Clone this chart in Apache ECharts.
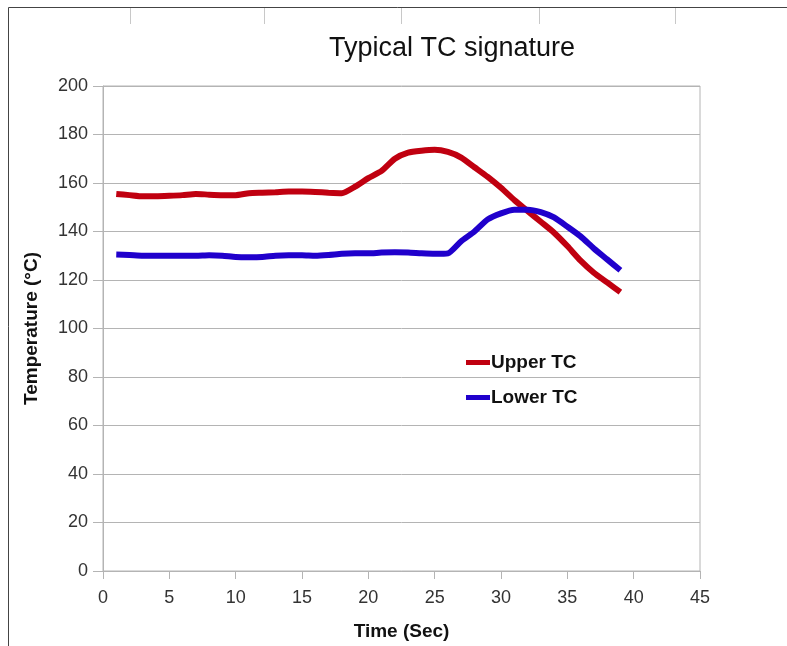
<!DOCTYPE html>
<html>
<head>
<meta charset="utf-8">
<script src="https://cdn.jsdelivr.net/npm/echarts@6/dist/echarts.min.js"></script>
<style>
html,body{margin:0;padding:0;background:#fff;}
#c{width:787px;height:646px;}
</style>
</head>
<body>
<div id="c"></div>
<script>
const timeSec = [1,2,3,4,5,6,7,8,9,10,11,12,13,14,15,16,17,18,19,20,21,22,23,24,25,26,27,28,29,30,31,32,33,34,35,36,37,38,39];
const upperTC = [155.5,155,154.5,154.5,154.7,155,155.5,155.2,155,155,155.8,156,156.2,156.5,156.5,156.3,156,155.8,158.5,162,165,170,172.5,173.3,173.7,172.8,170.5,166.5,162.5,158,153,148.5,144,139.5,134,128,123,119,115];
const lowerTC = [130.5,130.3,130,130,130,130,130,130.2,130,129.5,129.4,129.5,130,130.2,130.2,130,130.3,130.8,131,131,131.3,131.4,131.3,131,130.8,131,136,140,145,147.5,149,149,148,145.8,142,138,133,128.5,124];
const seriesNames = ['Upper TC', 'Lower TC'];
const xTicks = [0,5,10,15,20,25,30,35,40,45];
const yTicks = [0,20,40,60,80,100,120,140,160,180,200];

const narrow = '"Liberation Sans Narrow","Liberation Sans",Arial,sans-serif';
const sans = '"Liberation Sans",Arial,sans-serif';
const gridGray = '#b4b4b4';

const chart = echarts.init(document.getElementById('c'), null, {renderer:'canvas'});
chart.setOption({
  animation:false,
  backgroundColor:'#fff',
  title:{
    text:'Typical TC signature',
    left:447, top:30, textAlign:'center',
    textStyle:{fontFamily:narrow, fontSize:27, fontWeight:'normal', color:'#111'}
  },
  legend:{
    orient:'vertical', left:461, top:347,
    icon:'rect', itemWidth:24, itemHeight:5, itemGap:14,
    textStyle:{fontFamily:sans, fontSize:19, fontWeight:'bold', color:'#111', lineHeight:21, padding:[0,0,0,-4]},
    data:seriesNames
  },
  grid:{left:103, right:87, top:86, bottom:73, show:true, borderColor:gridGray, borderWidth:1},
  xAxis:{
    type:'value', min:xTicks[0], max:xTicks[xTicks.length-1], interval:5,
    name:'Time (Sec)', nameLocation:'middle', nameGap:51,
    nameTextStyle:{fontFamily:sans, fontSize:19, fontWeight:'bold', color:'#111'},
    axisLine:{show:true, lineStyle:{color:gridGray}},
    axisTick:{show:true, length:8, lineStyle:{color:gridGray}},
    axisLabel:{fontFamily:narrow, fontSize:18, color:'#333', margin:18},
    splitLine:{show:false}
  },
  yAxis:{
    type:'value', min:yTicks[0], max:yTicks[yTicks.length-1], interval:20,
    name:'Temperature (°C)', nameLocation:'middle', nameGap:62,
    nameTextStyle:{fontFamily:sans, fontSize:19, fontWeight:'bold', color:'#111'},
    axisLine:{show:true, lineStyle:{color:gridGray}},
    axisTick:{show:true, length:10, lineStyle:{color:gridGray}},
    axisLabel:{fontFamily:narrow, fontSize:18, color:'#333', margin:15},
    splitLine:{show:true, lineStyle:{color:gridGray, width:1}}
  },
  series:[
    {name:seriesNames[0], type:'line', data:timeSec.map((t,i)=>[t,upperTC[i]]), showSymbol:false, smooth:0.2,
     lineStyle:{width:6, color:'#c00010'}, itemStyle:{color:'#c00010'}},
    {name:seriesNames[1], type:'line', data:timeSec.map((t,i)=>[t,lowerTC[i]]), showSymbol:false, smooth:0.2,
     lineStyle:{width:6, color:'#2000cc'}, itemStyle:{color:'#2000cc'}}
  ],
  graphic:[
    {type:'line', shape:{x1:8.5,y1:7.5,x2:8.5,y2:646}, style:{stroke:'#444', lineWidth:1}},
    {type:'line', shape:{x1:8.5,y1:7.5,x2:787,y2:7.5}, style:{stroke:'#444', lineWidth:1}},
    {type:'line', shape:{x1:130.5,y1:8,x2:130.5,y2:24}, style:{stroke:'#c8c8c8', lineWidth:1}},
    {type:'line', shape:{x1:264.5,y1:8,x2:264.5,y2:24}, style:{stroke:'#c8c8c8', lineWidth:1}},
    {type:'line', shape:{x1:401.5,y1:8,x2:401.5,y2:24}, style:{stroke:'#c8c8c8', lineWidth:1}},
    {type:'line', shape:{x1:539.5,y1:8,x2:539.5,y2:24}, style:{stroke:'#c8c8c8', lineWidth:1}},
    {type:'line', shape:{x1:675.5,y1:8,x2:675.5,y2:24}, style:{stroke:'#c8c8c8', lineWidth:1}}
  ]
});
</script>
</body>
</html>
